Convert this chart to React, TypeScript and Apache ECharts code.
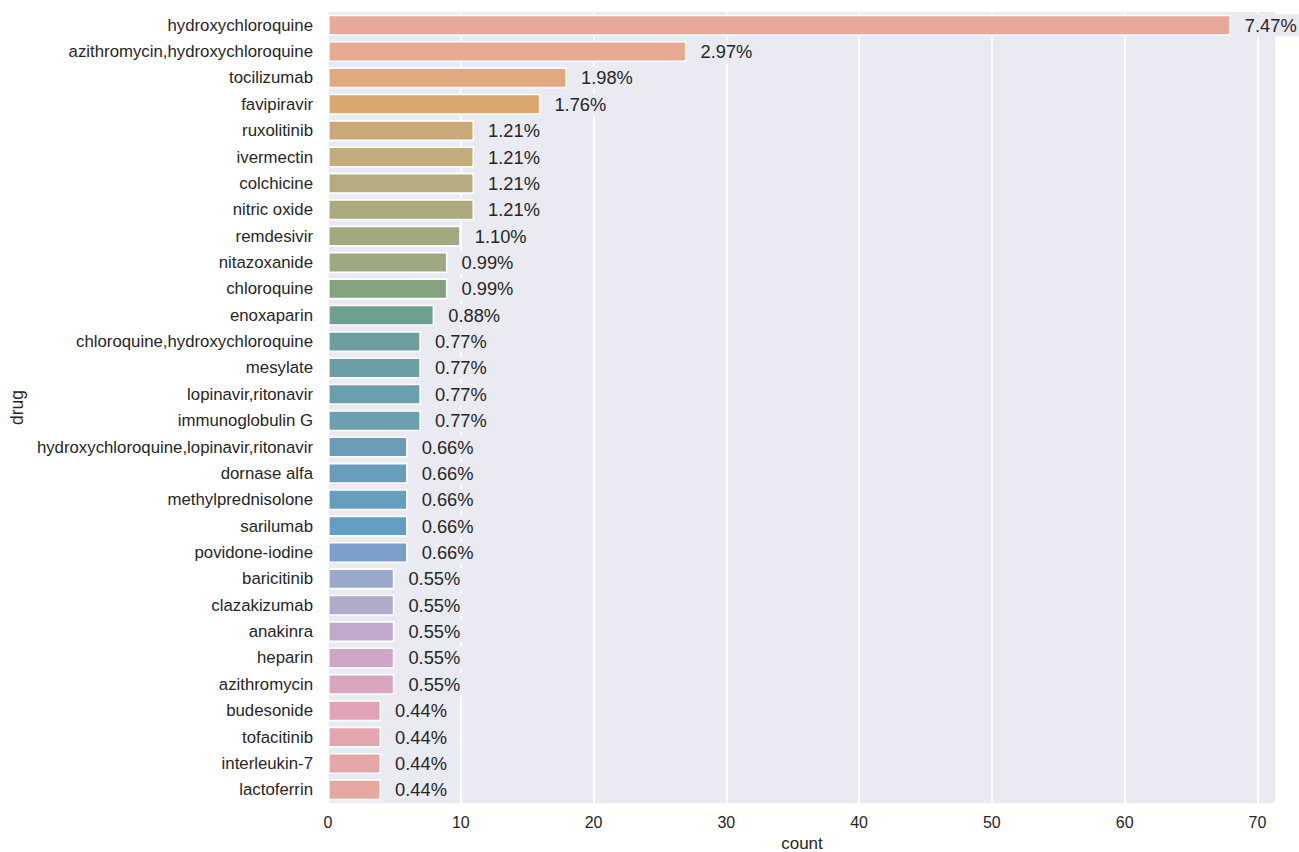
import React, { useEffect, useRef } from "react";
import * as echarts from "echarts";

const drugs = [
  "hydroxychloroquine",
  "azithromycin,hydroxychloroquine",
  "tocilizumab",
  "favipiravir",
  "ruxolitinib",
  "ivermectin",
  "colchicine",
  "nitric oxide",
  "remdesivir",
  "nitazoxanide",
  "chloroquine",
  "enoxaparin",
  "chloroquine,hydroxychloroquine",
  "mesylate",
  "lopinavir,ritonavir",
  "immunoglobulin G",
  "hydroxychloroquine,lopinavir,ritonavir",
  "dornase alfa",
  "methylprednisolone",
  "sarilumab",
  "povidone-iodine",
  "baricitinib",
  "clazakizumab",
  "anakinra",
  "heparin",
  "azithromycin",
  "budesonide",
  "tofacitinib",
  "interleukin-7",
  "lactoferrin",
];

const counts = [68, 27, 18, 16, 11, 11, 11, 11, 10, 9, 9, 8, 7, 7, 7, 7, 6, 6, 6, 6, 6, 5, 5, 5, 5, 5, 4, 4, 4, 4];

const percentLabels = [
  "7.47%", "2.97%", "1.98%", "1.76%", "1.21%", "1.21%", "1.21%", "1.21%", "1.10%", "0.99%",
  "0.99%", "0.88%", "0.77%", "0.77%", "0.77%", "0.77%", "0.66%", "0.66%", "0.66%", "0.66%",
  "0.66%", "0.55%", "0.55%", "0.55%", "0.55%", "0.55%", "0.44%", "0.44%", "0.44%", "0.44%",
];

const palette = [
  "#E8A99C", "#E7AA92", "#E3A880", "#D9A870", "#CBA877", "#C2AB7C", "#B6AB7E", "#ABA97E",
  "#A3A87E", "#9BA881", "#83A37F", "#6DA091", "#6C9F9D", "#6B9FA5", "#6C9FAE", "#6D9FB2",
  "#6B9DB9", "#699DBB", "#679EBE", "#649EC2", "#7C9FC9", "#9AA8CB", "#B0AACB", "#C0A8C9",
  "#CDA6C7", "#D9A5C0", "#E0A4B6", "#E3A6AE", "#E5A7A8", "#E6A9A2",
];

const xTicks = [0, 10, 20, 30, 40, 50, 60, 70];
const X_MAX = 71.4;

const FONT = "Liberation Sans, Arial, sans-serif";

export default function App() {
  const ref = useRef<HTMLDivElement>(null);

  useEffect(() => {
    document.body.style.margin = "0";
    if (!ref.current) return;
    const chart = echarts.init(ref.current, null, { renderer: "svg" });
    chart.setOption({
      animation: false,
      backgroundColor: "#ffffff",
      textStyle: { fontFamily: FONT },
      grid: {
        left: 328,
        right: 23,
        top: 12,
        bottom: 49,
        show: true,
        backgroundColor: "#EAEAF2",
        borderWidth: 0,
        containLabel: false,
        outerBoundsMode: "none",
      },
      xAxis: {
        type: "value",
        min: 0,
        max: X_MAX,
        interval: 10,
        name: "count",
        nameLocation: "middle",
        nameGap: 28,
        nameTextStyle: { fontSize: 17, lineHeight: 17, color: "#262626", fontFamily: FONT },
        axisLine: { show: false },
        axisTick: { show: false },
        axisLabel: {
          fontSize: 16,
          color: "#262626",
          margin: 11,
          fontFamily: FONT,
          formatter: (v: number) => (xTicks.indexOf(v) >= 0 ? String(v) : ""),
        },
        splitLine: { show: true, lineStyle: { color: "#ffffff", width: 1.6 } },
      },
      yAxis: {
        type: "category",
        data: drugs,
        inverse: true,
        name: "drug",
        nameLocation: "middle",
        nameGap: 299,
        nameRotate: 90,
        nameTextStyle: { fontSize: 17.5, color: "#262626", fontFamily: FONT },
        axisLine: { show: false },
        axisTick: { show: false },
        axisLabel: { fontSize: 16.8, color: "#262626", margin: 15, fontFamily: FONT },
        splitLine: { show: false },
      },
      series: [
        {
          type: "bar",
          barWidth: "80%",
          data: counts.map((v, i) => ({
            value: v,
            itemStyle: { color: palette[i] },
          })),
          itemStyle: { borderColor: "#ffffff", borderWidth: 1.6 },
          label: {
            show: true,
            position: "right",
            distance: 9,
            fontSize: 18.3,
            color: "#262626",
            fontFamily: FONT,
            backgroundColor: "#EAEAF2",
            padding: [2, 5],
            formatter: (p: any) => percentLabels[p.dataIndex],
          },
        },
      ],
    });
    return () => chart.dispose();
  }, []);

  return (
    <div
      ref={ref}
      style={{ position: "absolute", left: 0, top: 0, width: 1299, height: 852 }}
    />
  );
}
